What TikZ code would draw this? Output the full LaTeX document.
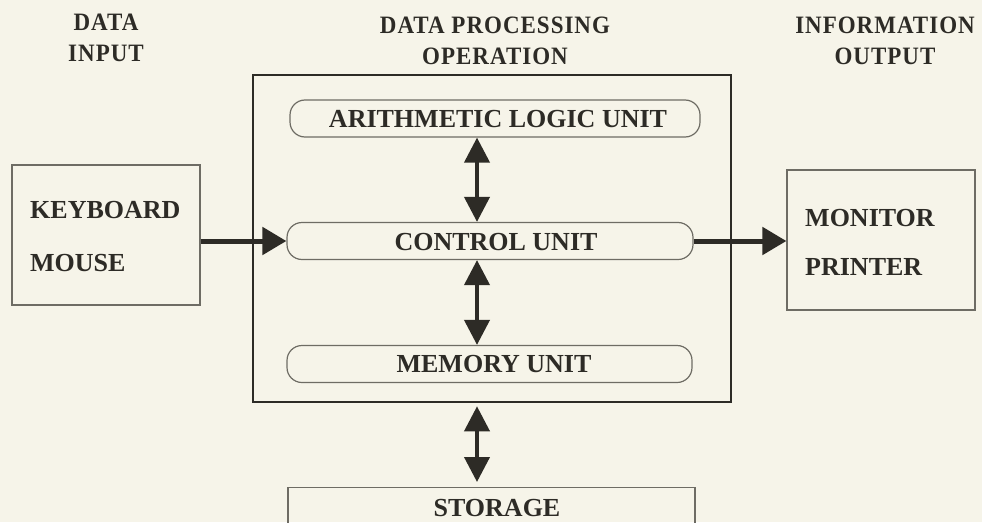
\documentclass[tikz,border=0pt]{standalone}
\usepackage{fontspec}
\setmainfont{Liberation Serif}
\newfontfamily\hdfont[FakeStretch=0.92,LetterSpace=4]{Liberation Serif}
\usetikzlibrary{arrows.meta}
\definecolor{paper}{RGB}{246,244,233}
\definecolor{ink}{RGB}{45,43,38}
\definecolor{thinline}{RGB}{110,108,100}
\tikzset{
  hdr/.style={font=\hdfont\fontsize{25}{31}\selectfont\bfseries, text=ink, align=center, inner sep=0pt},
  lbl/.style={font=\fontsize{26}{30}\selectfont\bfseries, text=ink, inner sep=0pt},
  iobox/.style={draw=thinline, line width=1.2pt, minimum width=188pt, minimum height=140pt, inner sep=0pt},
  unit/.style={draw=thinline, line width=1.2pt, rounded corners=15pt, minimum height=37pt, inner sep=0pt},
  mainbox/.style={draw=ink, line width=2.6pt, minimum width=478pt, minimum height=327pt, inner sep=0pt},
  harrow/.style={draw=ink, line width=5pt, -{Triangle[length=24pt,width=27pt]}},
  varrow/.style={draw=ink, line width=4pt, {Triangle[length=25pt,width=25pt]}-{Triangle[length=25pt,width=25pt]}},
}
\begin{document}
\begin{tikzpicture}[x=1pt,y=-1pt]
\fill[paper] (0,0) rectangle (982,522);
\useasboundingbox (0,0) rectangle (982,522);
\clip (0,0) rectangle (982,522);
% headers
\node[hdr] (h1) at (106,38) {DATA\\INPUT};
\node[hdr] (h2) at (495,41) {DATA PROCESSING\\OPERATION};
\node[hdr] (h3) at (885,41) {INFORMATION\\OUTPUT};
% main box
\node[mainbox] (main) at (492,238.5) {};
% units
\node[unit, minimum width=410pt] (alu) at (495,118.5) {};
\node[lbl] (alut) at (498,119) {ARITHMETIC LOGIC UNIT};
\node[unit, minimum width=406pt] (cu) at (490,241) {};
\node[lbl] (cut) at (496,242) {CONTROL UNIT};
\node[unit, minimum width=405pt] (mem) at (489.5,364) {};
\node[lbl] (memt) at (494,364) {MEMORY UNIT};
% input / output
\node[iobox] (kb) at (106,235) {};
\node[lbl, anchor=west] (kbt1) at (30,210) {KEYBOARD};
\node[lbl, anchor=west] (kbt2) at (30,263) {MOUSE};
\node[iobox] (mon) at (881,240) {};
\node[lbl, anchor=west] (mont1) at (805,218) {MONITOR};
\node[lbl, anchor=west] (mont2) at (805,267) {PRINTER};
% storage
\node[draw=thinline, line width=1.2pt, minimum width=407pt, minimum height=70pt, anchor=north, inner sep=0pt] (sto) at (491.5,487) {};
\node[lbl] (stot) at (497,508) {STORAGE};
% arrows
\draw[harrow] (kb.east |- cu.west) -- (cu.west);
\draw[harrow] (cu.east) -- (cu.east -| mon.west);
\draw[varrow] ([xshift=-18pt]alu.south) -- ([xshift=-13pt]cu.north);
\draw[varrow] ([xshift=-13pt]cu.south) -- ([xshift=-12.5pt]mem.north);
\draw[varrow, shorten <=3pt, shorten >=5pt] ([xshift=-15pt]main.south) -- ([xshift=-14.5pt]sto.north);
\end{tikzpicture}
\end{document}
